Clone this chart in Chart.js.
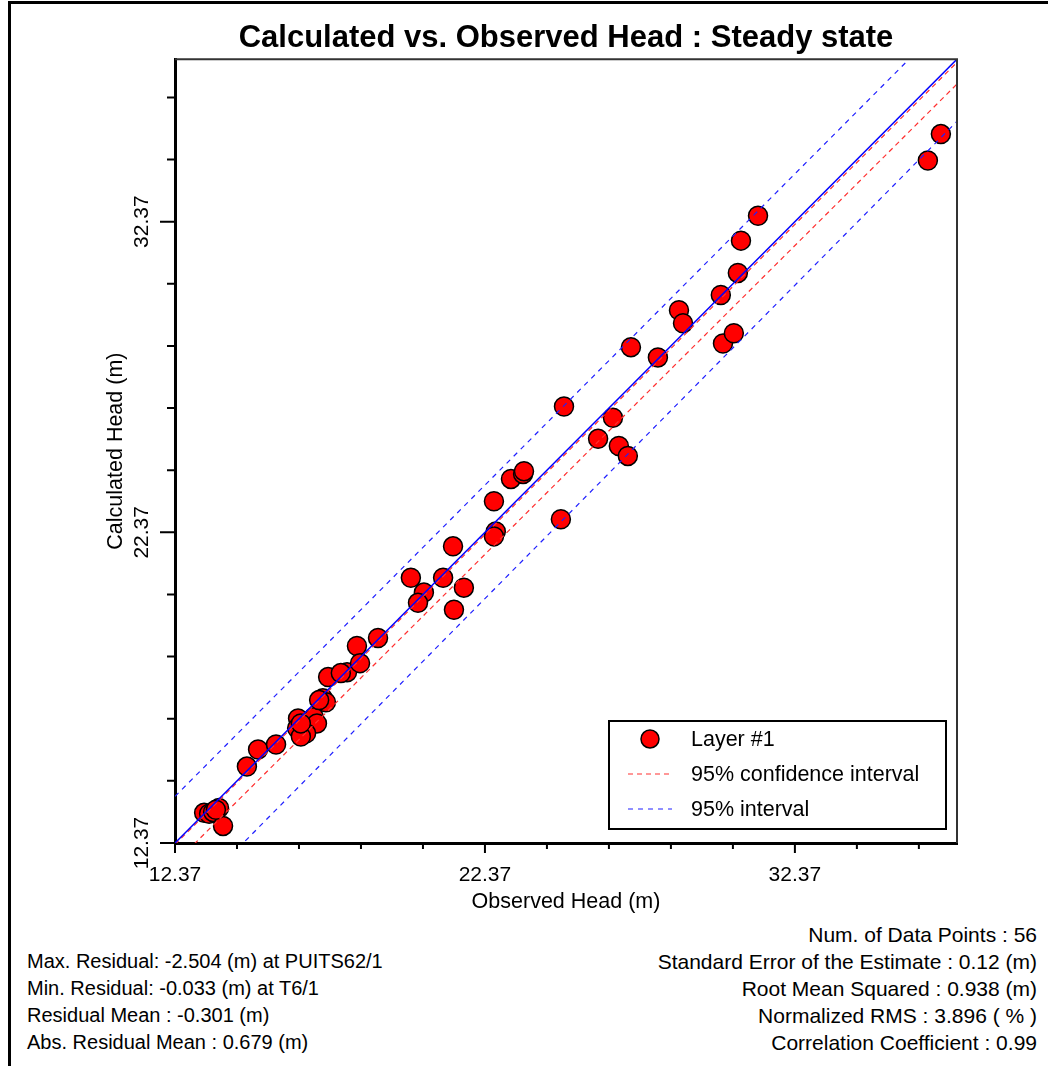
<!DOCTYPE html>
<html>
<head>
<meta charset="utf-8">
<script src="https://cdn.jsdelivr.net/npm/chart.js@4.4.1/dist/chart.umd.min.js"></script>
<style>
  html, body { margin: 0; padding: 0; background: #fff; }
  #page { position: relative; width: 1048px; height: 1066px; overflow: hidden; font-family: "Liberation Sans", Arial, sans-serif; }
  #frame { position: absolute; left: 8px; top: 1px; width: 1200px; height: 1200px; border-left: 3px solid #000; border-top: 3px solid #000; }
  #wrap { position: absolute; left: 0; top: 0; width: 1048px; height: 915px; }
  .stats { position: absolute; line-height: 27px; color: #000; white-space: nowrap; }
  #statsLeft { left: 27px; top: 948px; font-size: 20px; }
  #statsRight { right: 11px; top: 921px; text-align: right; font-size: 21px; }
</style>
</head>
<body>
<div id="page">
  <div id="frame"></div>
  <div id="wrap"><canvas id="headChart"></canvas></div>
  <div class="stats" id="statsLeft"></div>
  <div class="stats" id="statsRight"></div>
</div>
<script>
// observed vs calculated heads (m)
const observedHead = [
  13.31, 13.47, 13.60, 13.79, 13.92, 13.69, 14.69, 15.05, 15.63, 16.34,
  16.85, 16.95, 16.31, 16.60, 16.43, 16.43, 17.14, 17.24, 17.02, 17.31,
  17.92, 17.72, 18.24, 18.34, 18.92, 19.98, 20.40, 20.21, 21.02, 21.69,
  21.37, 21.34, 22.66, 22.72, 22.66, 23.21, 23.60, 23.63, 24.82, 24.92,
  26.02, 26.50, 26.69, 26.98, 27.08, 27.95, 28.63, 28.76, 29.98, 30.53,
  30.63, 31.18, 30.05, 30.40, 36.66, 37.08
];
const calculatedHead = [
  13.34, 13.31, 13.37, 13.50, 12.92, 13.44, 14.83, 15.38, 15.54, 16.38,
  16.42, 16.22, 16.06, 15.90, 15.80, 16.22, 17.03, 16.90, 16.97, 17.71,
  17.87, 17.84, 18.71, 18.16, 18.97, 20.91, 20.43, 20.10, 20.91, 20.59,
  19.88, 21.92, 23.37, 22.40, 22.24, 24.09, 24.25, 24.34, 22.79, 26.42,
  25.38, 26.06, 25.15, 24.83, 28.33, 28.00, 29.52, 29.10, 30.01, 30.72,
  31.76, 32.56, 28.45, 28.78, 34.34, 35.19
];

const axisMin = 12.37;
const axisMax = 37.6;
const tickValues = [12.37, 14.37, 16.37, 18.37, 20.37, 22.37, 24.37, 26.37, 28.37, 30.37, 32.37, 34.37, 36.37];
const majorTicks = [12.37, 22.37, 32.37];

// reference lines, given at both ends of the axis
const lineX = [12.37, 37.6];
const oneToOneY = [12.37, 37.6];
const confUpperY = [12.32, 37.5];
const confLowerY = [11.72, 36.8];
const predUpperY = [13.87, 39.15];
const predLowerY = [10.15, 35.6];

const statsLeft = [
  'Max. Residual: -2.504 (m) at PUITS62/1',
  'Min. Residual: -0.033 (m) at T6/1',
  'Residual Mean : -0.301 (m)',
  'Abs. Residual Mean : 0.679 (m)'
];
const statsRight = [
  'Num. of Data Points : 56',
  'Standard Error of the Estimate : 0.12 (m)',
  'Root Mean Squared : 0.938 (m)',
  'Normalized RMS : 3.896 ( % )',
  'Correlation Coefficient : 0.99'
];

document.getElementById('statsLeft').innerHTML = statsLeft.join('<br>');
document.getElementById('statsRight').innerHTML = statsRight.join('<br>');

const FONT = '"Liberation Sans", Arial, sans-serif';

function toPoints(xs, ys) {
  return xs.map((x, i) => ({ x: x, y: ys[i] }));
}

function isMajor(v) {
  return majorTicks.some((m) => Math.abs(m - v) < 1e-6);
}

function refLine(label, ys, color, dash, width) {
  return {
    label: label,
    data: toPoints(lineX, ys),
    showLine: true,
    borderColor: color,
    borderWidth: width,
    borderDash: dash,
    pointRadius: 0,
    fill: false,
    order: 1,
  };
}

// tick marks, plot frame and the legend box
const framePlugin = {
  id: 'frame',
  afterDraw(chart) {
    const ctx = chart.ctx;
    const area = chart.chartArea;
    const xs = chart.scales.x;
    const ys = chart.scales.y;

    ctx.save();
    ctx.strokeStyle = '#333';
    ctx.lineWidth = 2;
    ctx.beginPath();
    ctx.moveTo(area.left, area.top);
    ctx.lineTo(area.right, area.top);
    ctx.lineTo(area.right, area.bottom);
    ctx.stroke();

    ctx.strokeStyle = '#000';
    ctx.lineWidth = 2;
    tickValues.forEach((v) => {
      const px = xs.getPixelForValue(v);
      const py = ys.getPixelForValue(v);
      const major = isMajor(v);
      ctx.beginPath();
      ctx.moveTo(px, area.bottom);
      ctx.lineTo(px, area.bottom + (major ? 10 : 6));
      ctx.moveTo(area.left, py);
      ctx.lineTo(area.left - (major ? 15 : 8), py);
      ctx.stroke();
    });

    // legend
    const bw = 337, bh = 108;
    const bx = area.right - 348;
    const by = area.bottom - 122;
    ctx.fillStyle = '#fff';
    ctx.fillRect(bx, by, bw, bh);
    ctx.strokeStyle = '#000';
    ctx.lineWidth = 2;
    ctx.strokeRect(bx, by, bw, bh);

    const ds = chart.data.datasets;
    const rows = [
      { text: 'Layer #1', ds: ds[0], point: true },
      { text: '95% confidence interval', ds: ds[2] },
      { text: '95% interval', ds: ds[4] },
    ];
    ctx.font = '21.5px ' + FONT;
    ctx.textBaseline = 'middle';
    ctx.textAlign = 'left';
    rows.forEach((r, i) => {
      const cy = by + 18 + i * 35;
      if (r.point) {
        ctx.beginPath();
        ctx.arc(bx + 41, cy, 9, 0, Math.PI * 2);
        ctx.fillStyle = r.ds.backgroundColor;
        ctx.fill();
        ctx.lineWidth = 1.5;
        ctx.strokeStyle = r.ds.borderColor;
        ctx.stroke();
      } else {
        ctx.beginPath();
        ctx.setLineDash(r.ds.borderDash);
        ctx.strokeStyle = r.ds.borderColor;
        ctx.lineWidth = 1.2;
        ctx.moveTo(bx + 19, cy);
        ctx.lineTo(bx + 63, cy);
        ctx.stroke();
        ctx.setLineDash([]);
      }
      ctx.fillStyle = '#000';
      ctx.fillText(r.text, bx + 82, cy + 1);
    });
    ctx.restore();
  }
};

const axisCommon = {
  type: 'linear',
  min: axisMin,
  max: axisMax,
  afterBuildTicks: (axis) => {
    axis.ticks = tickValues.map((v) => ({ value: v }));
  },
  grid: {
    display: true,
    drawOnChartArea: false,
    drawTicks: true,
    tickLength: 10,
    tickColor: 'rgba(0,0,0,0)',
  },
  border: { display: true, color: '#000', width: 3 },
};

new Chart(document.getElementById('headChart'), {
  type: 'scatter',
  data: {
    datasets: [
      {
        label: 'Layer #1',
        data: toPoints(observedHead, calculatedHead),
        backgroundColor: '#ff0000',
        borderColor: '#000000',
        borderWidth: 1.5,
        pointRadius: 9.5,
        pointHoverRadius: 9.5,
        order: 5,
      },
      refLine('1:1', oneToOneY, '#0000ff', [], 1.5),
      refLine('95% confidence interval', confUpperY, '#ff3030', [5, 4], 1.2),
      refLine('95% confidence interval (lower)', confLowerY, '#ff3030', [5, 4], 1.2),
      refLine('95% interval', predUpperY, '#2020ff', [5, 5], 1.2),
      refLine('95% interval (lower)', predLowerY, '#2020ff', [5, 5], 1.2),
    ],
  },
  options: {
    responsive: true,
    maintainAspectRatio: false,
    animation: false,
    layout: { padding: { top: 20, left: 103, right: 91, bottom: 0 } },
    plugins: {
      legend: { display: false },
      tooltip: { enabled: false },
      title: {
        display: true,
        fullSize: false,
        text: 'Calculated vs. Observed Head : Steady state',
        color: '#000',
        font: { family: FONT, size: 31, weight: 'bold' },
        padding: { top: 0, bottom: 2 },
      },
    },
    scales: {
      x: {
        ...axisCommon,
        ticks: {
          autoSkip: false,
          maxRotation: 0,
          color: '#000',
          padding: 10,
          font: { family: FONT, size: 21 },
          callback: (v) => (isMajor(v) ? v.toFixed(2) : ''),
        },
        title: {
          display: true,
          text: 'Observed Head (m)',
          color: '#000',
          font: { family: FONT, size: 21.5 },
          padding: { top: -9, bottom: 0 },
        },
      },
      y: {
        ...axisCommon,
        grid: { ...axisCommon.grid, tickLength: 15 },
        ticks: {
          autoSkip: false,
          minRotation: 90,
          maxRotation: 90,
          crossAlign: 'center',
          color: '#000',
          padding: -8,
          font: { family: FONT, size: 21 },
          callback: (v) => (isMajor(v) ? v.toFixed(2) : ''),
        },
        title: {
          display: true,
          text: 'Calculated Head (m)',
          color: '#000',
          font: { family: FONT, size: 21.5 },
          padding: { top: 0, bottom: 22 },
        },
      },
    },
  },
  plugins: [framePlugin],
});
</script>
</body>
</html>
